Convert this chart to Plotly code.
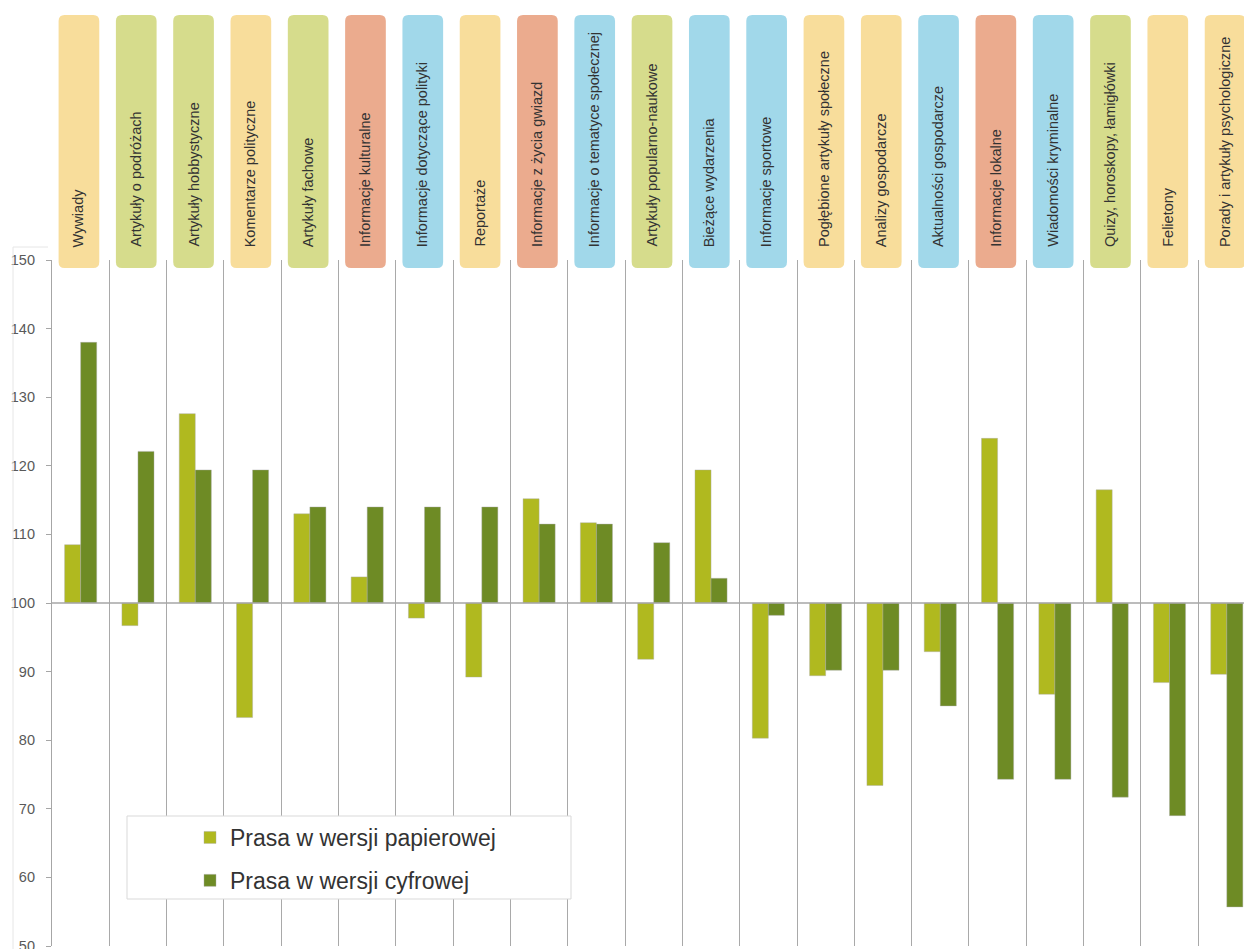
import plotly.graph_objects as go

categories = [
    "Wywiady", "Artykuły o podróżach", "Artykuły hobbystyczne", "Komentarze polityczne",
    "Artykuły fachowe", "Informacje kulturalne", "Informacje dotyczące polityki", "Reportaże",
    "Informacje z życia gwiazd", "Informacje o tematyce społecznej", "Artykuły popularno-naukowe",
    "Bieżące wydarzenia", "Informacje sportowe", "Pogłębione artykuły społeczne",
    "Analizy gospodarcze", "Aktualności gospodarcze", "Informacje lokalne",
    "Wiadomości kryminalne", "Quizy, horoskopy, łamigłówki", "Felietony",
    "Porady i artykuły psychologiczne",
]
paper_values = [108.5, 96.7, 127.6, 83.3, 113.0, 103.8, 97.8, 89.2, 115.2, 111.7, 91.8,
                119.4, 80.3, 89.4, 73.4, 92.9, 124.0, 86.7, 116.5, 88.4, 89.6]
digital_values = [138.0, 122.1, 119.4, 119.4, 114.0, 114.0, 114.0, 114.0, 111.5, 111.5, 108.8,
                  103.6, 98.2, 90.2, 90.2, 85.0, 74.3, 74.3, 71.7, 69.0, 55.7]
category_groups = ["y", "g", "g", "y", "g", "s", "b", "y", "s", "b", "g",
                   "b", "b", "y", "y", "b", "s", "b", "g", "y", "y"]
y_ticks = [50, 60, 70, 80, 90, 100, 110, 120, 130, 140, 150]
series_names = ["Prasa w wersji papierowej", "Prasa w wersji cyfrowej"]

BASE = 100
group_colors = {"y": "#F8DD9B", "g": "#D6DC8C", "s": "#EBAB8E", "b": "#A1D8EA"}
light = "#B0B91F"
dark = "#6E8B25"

W, H = 1244, 949
ML, MR, MT, MB = 52, 0, 260, 3
plot_h = H - MT - MB
x_pos = list(range(len(categories)))

fig = go.Figure()
fig.add_trace(go.Bar(
    x=x_pos, y=[v - BASE for v in paper_values], base=BASE,
    name=series_names[0], marker=dict(color=light, line=dict(color="rgba(170,170,170,0.7)", width=0.6)),
    legendgroup="a",
))
fig.add_trace(go.Bar(
    x=x_pos, y=[v - BASE for v in digital_values], base=BASE,
    name=series_names[1], marker=dict(color=dark, line=dict(color="rgba(170,170,170,0.7)", width=0.6)),
    legendgroup="b",
))

def py(p):
    return (H - MB - p) / plot_h

shapes = []
# rounded category boxes
half_w = 0.355
rx = 6 / 57.3
ry = 6 / plot_h
top = py(15)
bot = py(268)
for i, g in enumerate(category_groups):
    x0, x1 = i - half_w - 0.03, i + half_w - 0.03
    path = (f"M {x0+rx},{top} L {x1-rx},{top} Q {x1},{top} {x1},{top-ry} "
            f"L {x1},{bot+ry} Q {x1},{bot} {x1-rx},{bot} L {x0+rx},{bot} "
            f"Q {x0},{bot} {x0},{bot+ry} L {x0},{top-ry} Q {x0},{top} {x0+rx},{top} Z")
    shapes.append(dict(type="path", path=path, xref="x", yref="paper",
                       fillcolor=group_colors[g], line=dict(width=0), layer="above"))
# baseline at 100
shapes.append(dict(type="line", xref="paper", yref="y", x0=0, x1=1, y0=BASE, y1=BASE,
                   line=dict(color="#A6A6A6", width=1.5), layer="above"))
# faint frame around tick labels
fx = (13 - ML) / (W - ML - MR)
shapes.append(dict(type="line", xref="paper", yref="paper", x0=fx, x1=fx, y0=-0.05, y1=py(247),
                   line=dict(color="#E6E6E6", width=1)))
shapes.append(dict(type="line", xref="paper", yref="paper", x0=fx, x1=(48 - ML) / (W - ML - MR),
                   y0=py(247), y1=py(247), line=dict(color="#E6E6E6", width=1)))
# legend frame
lx0 = (127 - ML) / (W - ML - MR)
lx1 = (571 - ML) / (W - ML - MR)
shapes.append(dict(type="rect", xref="paper", yref="paper", x0=lx0, x1=lx1, y0=py(899), y1=py(816),
                   fillcolor="white", line=dict(color="#D9D9D9", width=1), layer="above"))

annotations = []
for i, c in enumerate(categories):
    annotations.append(dict(x=i - 0.03, y=py(249), xref="x", yref="paper", text=c, textangle=-90,
                            showarrow=False, xanchor="center", yanchor="bottom",
                            font=dict(family="Liberation Sans, Arial", size=14.5, color="#333333")))

fig.update_layout(
    width=W, height=H,
    margin=dict(l=ML, r=MR, t=MT, b=MB, pad=0, autoexpand=False),
    paper_bgcolor="white", plot_bgcolor="white",
    barmode="group", bargap=0.44, bargroupgap=0,
    shapes=shapes, annotations=annotations,
    showlegend=True,
    legend=dict(x=(190 - ML) / (W - ML - MR), y=py(816), xanchor="left", yanchor="top",
                bgcolor="rgba(0,0,0,0)", borderwidth=0, traceorder="grouped", tracegroupgap=10,
                font=dict(family="Liberation Sans, Arial", size=23, color="#333333"),
                itemwidth=30),
    font=dict(family="Liberation Sans, Arial"),
)
fig.update_xaxes(range=[-0.5, 20.3], tickvals=[i + 0.5 for i in range(len(categories))],
                 showticklabels=False, showgrid=True, gridcolor="#A9A9A9", gridwidth=1,
                 zeroline=False, showline=False, ticks="", automargin=False)
fig.update_yaxes(range=[50, 150], tickvals=y_ticks, showgrid=False, zeroline=False,
                 showline=True, linecolor="#A6A6A6", linewidth=1.2,
                 ticks="outside", ticklen=5, tickcolor="#A6A6A6",
                 ticklabelstandoff=8, ticklabeloverflow="allow", automargin=False,
                 tickfont=dict(family="Liberation Sans, Arial", size=14.5, color="#595959"))

fig.write_html("out.html")
